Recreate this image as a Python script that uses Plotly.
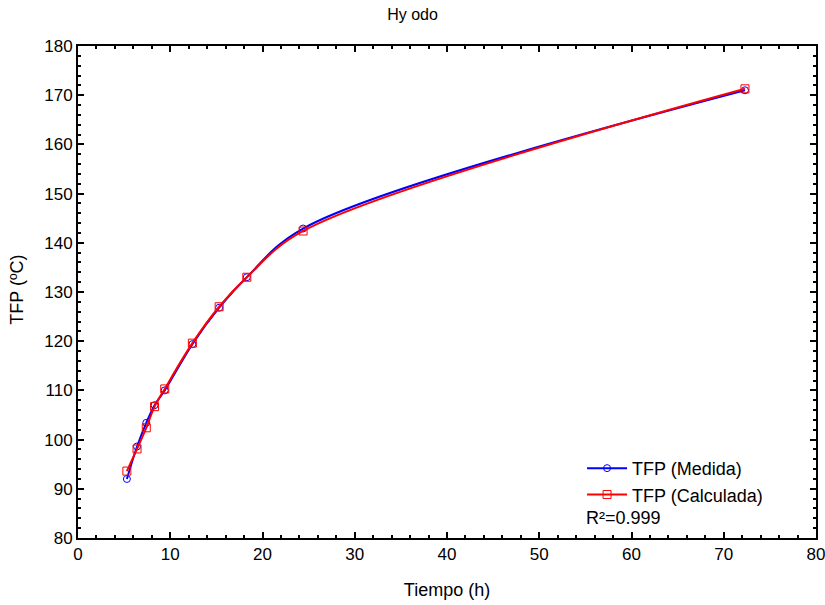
import plotly.graph_objects as go

# Data
tiempo = [5.3, 6.4, 7.4, 8.3, 9.4, 12.4, 15.3, 18.3, 24.4, 72.3]
tfp_medida = [92.0, 98.6, 103.4, 107.0, 110.0, 119.4, 126.8, 133.0, 142.9, 171.0]
tfp_calculada = [93.6, 98.1, 102.4, 106.7, 110.3, 119.6, 127.0, 133.0, 142.4, 171.3]

title_text = "Hy odo"
x_title = "Tiempo (h)"
y_title = "TFP (ºC)"
r2_text = "R²=0.999"

FONT = "Liberation Sans, Arial, sans-serif"

fig = go.Figure()
fig.add_trace(go.Scatter(
    x=tiempo, y=tfp_medida, mode="lines+markers", name="TFP (Medida)",
    line=dict(color="#0000ff", width=2, shape="spline", smoothing=1.0),
    marker=dict(symbol="circle-open", size=7, color="#0000ff", line=dict(width=1)),
))
fig.add_trace(go.Scatter(
    x=tiempo, y=tfp_calculada, mode="lines+markers", name="TFP (Calculada)",
    line=dict(color="#ff0000", width=2, shape="spline", smoothing=1.0),
    marker=dict(symbol="square-open", size=8, color="#ff0000", line=dict(width=1)),
))

axis_common = dict(
    showline=True, linecolor="black", linewidth=2, mirror="ticks",
    ticks="inside", ticklen=6, tickwidth=2, tickcolor="black",
    showgrid=False, zeroline=False, automargin=False,
    ticklabeloverflow="allow",
    tickfont=dict(family=FONT, size=17, color="black"),
)

fig.update_xaxes(range=[0, 80], dtick=10, tick0=0,
                 minor=dict(dtick=2, ticks="inside", ticklen=3, tickwidth=2, tickcolor="black"),
                 title=dict(text=x_title, font=dict(family=FONT, size=18, color="black"), standoff=20),
                 **axis_common)
fig.update_yaxes(range=[80, 180], dtick=10, tick0=80,
                 minor=dict(dtick=2, ticks="inside", ticklen=3, tickwidth=2, tickcolor="black"),
                 **axis_common)

# y-axis title placed as rotated annotation
fig.add_annotation(text=y_title, xref="paper", yref="paper", x=-0.083, y=0.504,
                   xanchor="center", yanchor="middle", textangle=-90, showarrow=False,
                   font=dict(family=FONT, size=18, color="black"))

fig.add_annotation(text=r2_text, xref="paper", yref="paper", x=0.686, y=0.041,
                   xanchor="left", yanchor="middle", showarrow=False,
                   font=dict(family=FONT, size=18, color="black"))

fig.update_layout(
    width=825, height=605,
    margin=dict(l=78, r=9, t=46, b=67),
    paper_bgcolor="white", plot_bgcolor="white",
    title=dict(text=title_text, x=0.5, xanchor="center", y=0.977, yanchor="middle",
               font=dict(family=FONT, size=16, color="black")),
    legend=dict(x=0.683, y=0.179, xanchor="left", yanchor="top",
                bgcolor="rgba(0,0,0,0)", font=dict(family=FONT, size=18, color="black"),
                itemwidth=40, tracegroupgap=0),
    showlegend=True,
)

fig.write_html("out.html")
